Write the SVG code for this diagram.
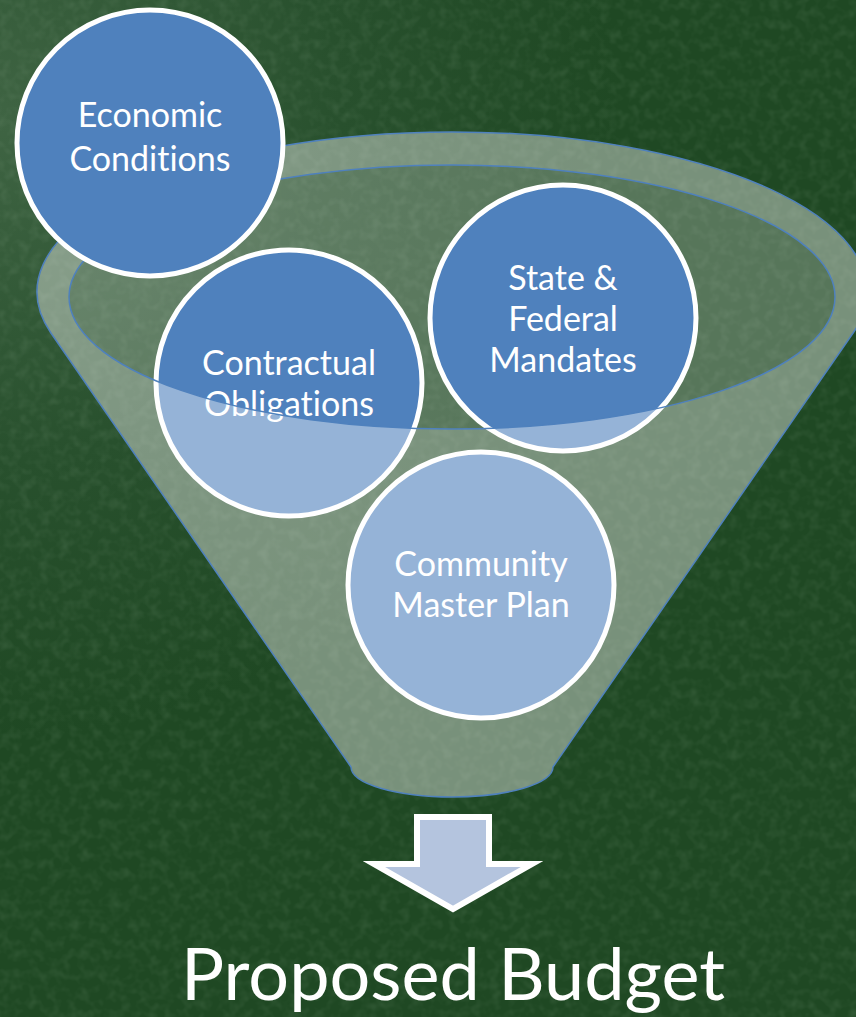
<svg xmlns="http://www.w3.org/2000/svg" width="856" height="1017" viewBox="0 0 856 1017">
  <style>
    .node circle { stroke: #FFFFFF; stroke-width: 5; }
    .dark { fill: #4F81BD; }
    .light { fill: #95B3D7; }
    .lbl { font-family: "Lato", "Liberation Sans", sans-serif; font-size: 34px; fill: #FFFFFF; text-anchor: middle; font-variant-ligatures: none; }
    .rim { stroke: #4F81BD; stroke-width: 1.5; }
    .title { font-family: "Lato", "Liberation Sans", sans-serif; font-size: 72px; fill: #FFFFFF; text-anchor: middle; font-variant-ligatures: none; }
  </style>
  <defs>
    <radialGradient id="bg" cx="0" cy="120" r="620" gradientUnits="userSpaceOnUse">
      <stop offset="0" stop-color="#3F6443"/>
      <stop offset="0.55" stop-color="#28502D"/>
      <stop offset="1" stop-color="#1F4823"/>
    </radialGradient>
    <filter id="tex" x="0" y="0" width="856" height="1017" filterUnits="userSpaceOnUse">
      <feTurbulence type="fractalNoise" baseFrequency="0.1" numOctaves="2" seed="7" result="n"/>
      <feColorMatrix in="n" type="matrix" values="0 0 0 0 0.42  0 0 0 0 0.58  0 0 0 0 0.42  1.2 0 0 0 -0.5"/>
    </filter>
  </defs>

  <g id="background">
    <rect x="0" y="0" width="856" height="1017" fill="url(#bg)"/>
    <rect x="0" y="0" width="856" height="1017" filter="url(#tex)" opacity="0.2"/>
  </g>

  <g id="funnel-opening">
    <ellipse cx="452" cy="297" rx="383" ry="132" fill="#FFFFFF" fill-opacity="0.25"/>
  </g>

  <g id="node-contractual" class="node">
    <circle class="dark" cx="289" cy="383" r="133"/>
    <text class="lbl" x="289" y="375">Contractual</text>
    <text class="lbl" x="289" y="416">Obligations</text>
  </g>

  <g id="node-state" class="node">
    <circle class="dark" cx="563" cy="318" r="133"/>
    <text class="lbl" x="563" y="290">State &amp;</text>
    <text class="lbl" x="563" y="331">Federal</text>
    <text class="lbl" x="563" y="372">Mandates</text>
  </g>

  <g id="node-community" class="node">
    <circle class="dark" cx="481" cy="585" r="133"/>
    <text class="lbl" x="481" y="576">Community</text>
    <text class="lbl" x="481" y="617">Master Plan</text>
  </g>

  <g id="funnel-body">
    <path fill="#FFFFFF" fill-opacity="0.4" fill-rule="evenodd"
      d="M 50.9,333 A 415 160 0 1 1 853.1,333 L 553,767 A 101 30 0 0 1 351,767 Z
         M 69,297 A 383 132 0 1 0 835,297 A 383 132 0 1 0 69,297 Z"/>
    <path class="rim" fill="none" d="M 50.9,333 A 415 160 0 1 1 853.1,333 L 553,767 A 101 30 0 0 1 351,767 Z"/>
    <ellipse class="rim" fill="none" cx="452" cy="297" rx="383" ry="132"/>
  </g>

  <g id="node-economic" class="node">
    <circle class="dark" cx="150" cy="143" r="133"/>
    <text class="lbl" x="150" y="127">Economic</text>
    <text class="lbl" x="150" y="171">Conditions</text>
  </g>

  <g id="connectors">
    <path d="M 417,817 L 489,817 L 489,864 L 532,864 L 453,909 L 374,864 L 417,864 Z" fill="#B4C4DE" stroke="#FFFFFF" stroke-width="6" stroke-linejoin="miter"/>
  </g>

  <g id="node-proposed-budget">
    <text class="title" x="453" y="1000">Proposed Budget</text>
  </g>
</svg>
